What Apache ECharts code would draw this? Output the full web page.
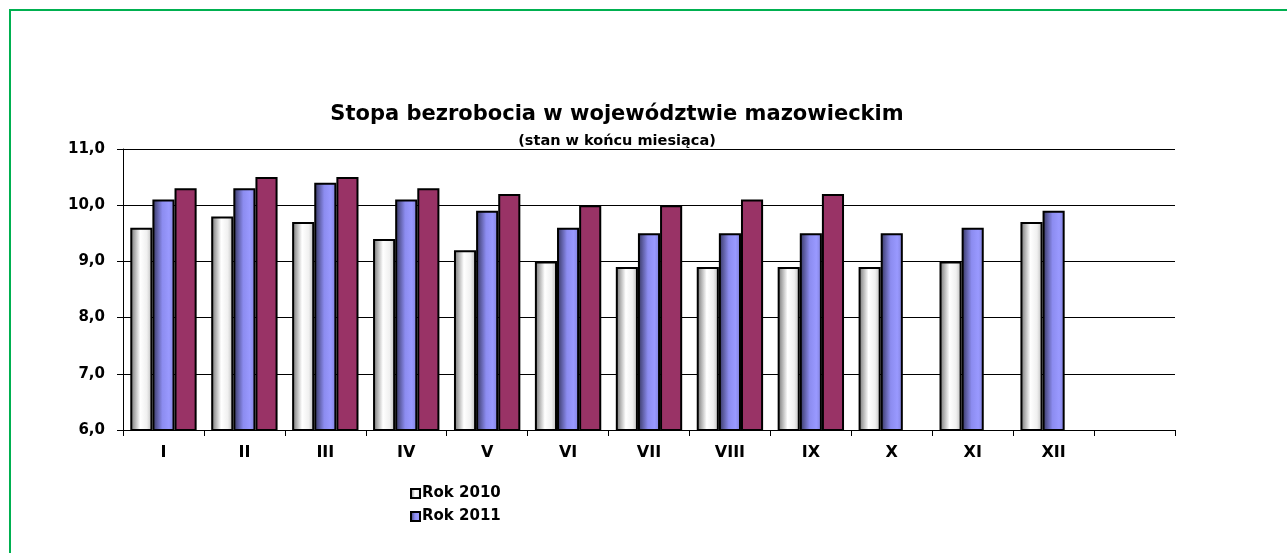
<!DOCTYPE html>
<html>
<head>
<meta charset="utf-8">
<script src="https://cdn.jsdelivr.net/npm/echarts@6/dist/echarts.min.js"></script>
<style>
  html, body { margin: 0; padding: 0; background: #fff; }
  #frame { position: absolute; left: 9px; top: 9px; width: 1278px; height: 544px;
           border-top: 2px solid #00B050; border-left: 2px solid #00B050; }
  #chart { position: absolute; left: 0; top: 0; width: 1287px; height: 553px; }
</style>
</head>
<body>
<div id="frame"></div>
<div id="chart"></div>
<script>
// months, last slot stays empty like in the original
var months = ['I', 'II', 'III', 'IV', 'V', 'VI', 'VII', 'VIII', 'IX', 'X', 'XI', 'XII', ''];
var rok2010 = [9.6, 9.8, 9.7, 9.4, 9.2, 9.0, 8.9, 8.9, 8.9, 8.9, 9.0, 9.7, '-'];
var rok2011 = [10.1, 10.3, 10.4, 10.1, 9.9, 9.6, 9.5, 9.5, 9.5, 9.5, 9.6, 9.9, '-'];
var rok2012 = [10.3, 10.5, 10.5, 10.3, 10.2, 10.0, 10.0, 10.1, 10.2, '-', '-', '-', '-'];
var legendNames = ['Rok 2010', 'Rok 2011'];

var font = 'DejaVu Sans, Verdana, sans-serif';
var chart = echarts.init(document.getElementById('chart'));

function hGrad(stops) {
  return new echarts.graphic.LinearGradient(0, 0, 1, 0, stops);
}
var greyFill = hGrad([
  {offset: 0, color: '#6e6e6e'},
  {offset: 0.45, color: '#ffffff'},
  {offset: 0.75, color: '#f0f0f0'},
  {offset: 1, color: '#b8b8b8'}
]);
var blueFill = hGrad([
  {offset: 0, color: '#33335c'},
  {offset: 0.45, color: '#8c8cf0'},
  {offset: 0.75, color: '#9999ff'},
  {offset: 1, color: '#8080d8'}
]);

var option = {
  animation: false,
  title: {
    text: 'Stopa bezrobocia w województwie mazowieckim',
    subtext: '(stan w końcu miesiąca)',
    left: 617, top: 104, textAlign: 'center', itemGap: 9, padding: 0,
    textStyle: {fontFamily: font, fontWeight: 'bold', fontSize: 21, color: '#000'},
    subtextStyle: {fontFamily: font, fontWeight: 'bold', fontSize: 14.5, color: '#000'}
  },
  legend: {
    data: legendNames,
    orient: 'vertical', left: 410, top: 486, padding: 0,
    itemWidth: 9, itemHeight: 9, itemGap: 8, icon: 'rect',
    textStyle: {fontFamily: font, fontWeight: 'bold', fontSize: 15, color: '#000', padding: [0, 0, 0, -3]}
  },
  grid: {left: 123, right: 112, top: 149, bottom: 123},
  xAxis: {
    type: 'category', data: months, boundaryGap: true,
    axisLine: {lineStyle: {color: '#000', width: 1}},
    axisTick: {show: true, interval: 0, length: 6, lineStyle: {color: '#000', width: 1}},
    axisLabel: {interval: 0, margin: 15, fontFamily: font, fontWeight: 'bold', fontSize: 16, color: '#000'}
  },
  yAxis: {
    type: 'value', min: 6, max: 11, interval: 1,
    axisLine: {show: true, lineStyle: {color: '#000'}},
    axisTick: {show: true, length: 6, lineStyle: {color: '#000'}},
    splitLine: {lineStyle: {color: '#000', width: 1}},
    axisLabel: {
      margin: 18, fontFamily: font, fontWeight: 'bold', fontSize: 15, color: '#000',
      formatter: function (v) { return v.toFixed(1).replace('.', ','); }
    }
  },
  series: [
    {name: 'Rok 2010', type: 'bar', data: rok2010, barGap: '0%', barCategoryGap: '18%',
     itemStyle: {color: greyFill, borderColor: '#000', borderWidth: 2}},
    {name: 'Rok 2011', type: 'bar', data: rok2011,
     itemStyle: {color: blueFill, borderColor: '#000', borderWidth: 2}},
    {name: 'Rok 2012', type: 'bar', data: rok2012,
     itemStyle: {color: '#993366', borderColor: '#000', borderWidth: 2}}
  ]
};
chart.setOption(option);
</script>
</body>
</html>
